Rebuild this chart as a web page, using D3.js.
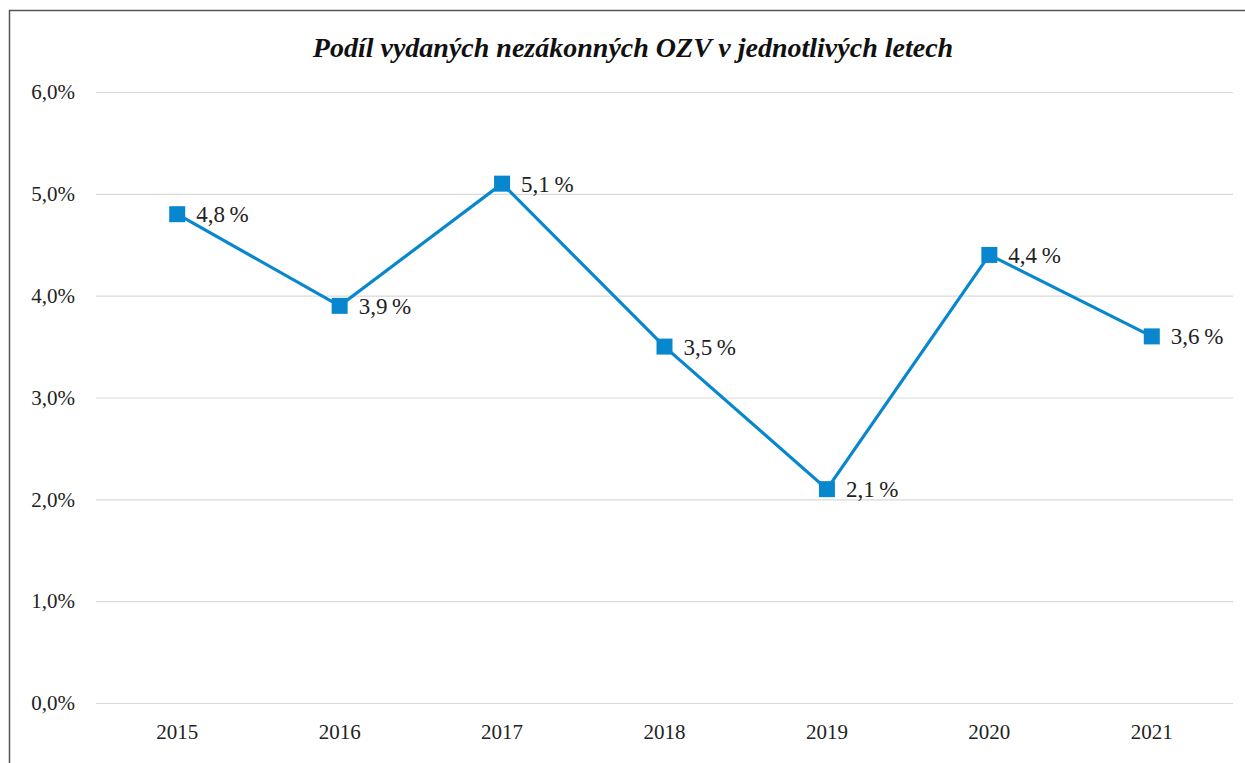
<!DOCTYPE html>
<html><head><meta charset="utf-8">
<script src="https://cdn.jsdelivr.net/npm/d3@7"></script>
<style>html,body{margin:0;padding:0;background:#fff;}svg{display:block;}</style>
</head><body>
<svg id="c" width="1245" height="763"></svg>
<script>
const years = ["2015","2016","2017","2018","2019","2020","2021"];
const values = [4.8, 3.9, 5.1, 3.5, 2.1, 4.4, 3.6];
const yTicks = [0,1,2,3,4,5,6];
const title = "Podíl vydaných nezákonných OZV v jednotlivých letech";

const svg = d3.select("#c");
const font = "'Liberation Serif', 'Times New Roman', serif";
const color = "#0887CE";

// frame
svg.append("path").attr("d","M9.5,763 L9.5,10.5 L1245,10.5").attr("fill","none").attr("stroke","#555").attr("stroke-width",1.5);

const x = d3.scaleBand().domain(years).range([96,1233]);
const y = d3.scaleLinear().domain([0,6]).range([703,92]);

svg.append("text").attr("x",633).attr("y",57).attr("text-anchor","middle")
  .attr("font-family",font).attr("font-weight","bold").attr("font-style","italic")
  .attr("font-size",28).attr("fill","#111").text(title);

const yAxis = d3.axisLeft(y).tickValues(yTicks).tickSize(-(1233-96)).tickPadding(21)
  .tickFormat(d => d3.format(".1f")(d).replace(".",",") + "%");
const gy = svg.append("g").attr("transform","translate(96,0)").call(yAxis);
gy.select(".domain").remove();
gy.selectAll(".tick line").attr("stroke","#d9d9d9").attr("stroke-width",1.2);
gy.selectAll(".tick text").attr("font-family",font).attr("font-size",21).attr("fill","#222");

const xAxis = d3.axisBottom(x).tickSize(0).tickPadding(21);
const gx = svg.append("g").attr("transform","translate(0,703)").call(xAxis);
gx.select(".domain").remove();
gx.selectAll(".tick text").attr("font-family",font).attr("font-size",21).attr("fill","#222");

const cx = d => x(d) + x.bandwidth()/2;
const line = d3.line().x((d,i)=>cx(years[i])).y(d=>y(d));
svg.append("path").datum(values).attr("d",line).attr("fill","none").attr("stroke",color).attr("stroke-width",3.2);

const s = 16;
svg.selectAll("rect.m").data(values).enter().append("rect").attr("class","m")
  .attr("x",(d,i)=>cx(years[i])-s/2).attr("y",d=>y(d)-s/2).attr("width",s).attr("height",s).attr("fill",color);

svg.selectAll("text.lbl").data(values).enter().append("text").attr("class","lbl")
  .attr("x",(d,i)=>cx(years[i])+19).attr("y",d=>y(d)+8)
  .attr("font-family",font).attr("font-size",23).attr("fill","#222")
  .text(d => d3.format(".1f")(d).replace(".",",") + "\u2009%");
</script>
</body></html>
